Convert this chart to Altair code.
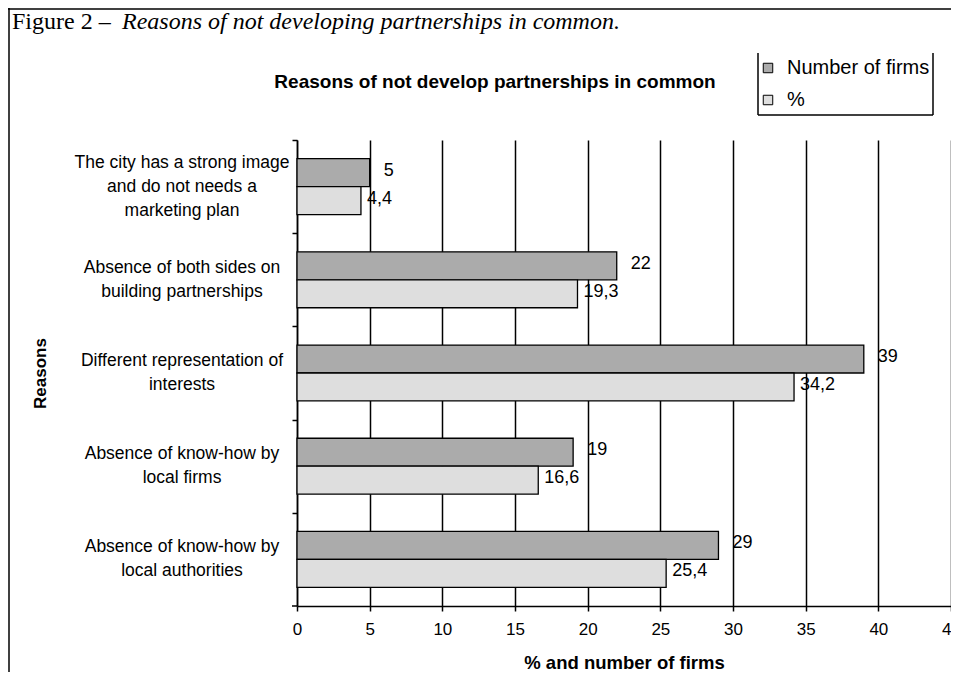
import altair as alt
import pandas as pd

# ---- data ----
reasons = [
    "The city has a strong image\nand do not needs a\nmarketing plan",
    "Absence of both sides on\nbuilding partnerships",
    "Different representation of\ninterests",
    "Absence of know-how by\nlocal firms",
    "Absence of know-how by\nlocal authorities",
]
series = ["Number of firms", "%"]
firms = [5, 22, 39, 19, 29]
percent = [4.4, 19.3, 34.2, 16.6, 25.4]
x_ticks = [0, 5, 10, 15, 20, 25, 30, 35, 40, 45]

caption_plain = ["Figure 2 \u2013"]
caption_italic = ["Reasons of not developing partnerships in common."]
chart_title = ["Reasons of not develop partnerships in common"]

rows = []
for r, f, p in zip(reasons, firms, percent):
    rows.append({"Reason": r, "Series": series[0], "Value": f, "Label": str(f)})
    rows.append({"Reason": r, "Series": series[1], "Value": p,
                 "Label": f"{p:.1f}".replace(".", ",")})
df = pd.DataFrame(rows)
df_cat = pd.DataFrame({"Reason": reasons,
                       "Lines": [r.count("\n") + 1 for r in reasons]})

W, H = 654, 466
STEP = H / 5.0
LH = 24
FONT = "Liberation Sans"
SERIF = "Liberation Serif"

y_enc = alt.Y(
    "Reason:N", sort=reasons,
    scale=alt.Scale(paddingInner=0.4, paddingOuter=0.2),
    axis=alt.Axis(
        title="Reasons", titleFont=FONT, titleFontSize=17, titleFontWeight="bold",
        titleColor="black", titleX=-257, titleY=H / 2, titleAngle=270,
        titleAlign="center", titleBaseline="middle",
        labels=False, tickOffset=-STEP / 2,
        tickSize=5, tickColor="black", tickWidth=1.5,
        domainColor="black", domainWidth=1.5, grid=False,
    ),
)
yoff = alt.YOffset("Series:N", sort=series, scale=alt.Scale(domain=series))
x_enc = alt.X(
    "Value:Q",
    scale=alt.Scale(domain=[0, 45], nice=False, zero=True),
    axis=alt.Axis(
        values=x_ticks, title="% and number of firms", titleFont=FONT,
        titleFontSize=18.5, titleFontWeight="bold", titleColor="black",
        titleX=W / 2, titleY=56, titleBaseline="middle",
        labelFont=FONT, labelFontSize=17, labelColor="black", labelPadding=10,
        labelFlush=False, labelOverlap=False,
        tickSize=5, tickColor="black", tickWidth=1.5,
        domainColor="black", domainWidth=1.5,
        grid=True, gridColor="black", gridWidth=1.5, gridOpacity=1,
    ),
)

bars = alt.Chart(df).mark_bar(stroke="black", strokeWidth=1.3).encode(
    y=y_enc, yOffset=yoff, x=x_enc,
    fill=alt.Fill(
        "Series:N", sort=series,
        scale=alt.Scale(domain=series, range=["#ababab", "#dedede"]),
        legend=alt.Legend(
            orient="none", legendX=461, legendY=-82, title=None,
            symbolType="square", symbolSize=90, symbolStrokeColor="black",
            symbolStrokeWidth=1, labelFont=FONT, labelFontSize=20,
            labelColor="black", rowPadding=12, labelOffset=9, padding=0,
        ),
    ),
)

lab_firms = alt.Chart(df).transform_filter(alt.datum.Series == series[0]).mark_text(
    align="left", baseline="middle", dx=14, dy=-2, font=FONT, fontSize=18, color="black"
).encode(y=y_enc, yOffset=yoff, x=x_enc, text="Label:N")

lab_pct = alt.Chart(df).transform_filter(alt.datum.Series == series[1]).mark_text(
    align="left", baseline="middle", dx=6, dy=-2, font=FONT, fontSize=18, color="black"
).encode(y=y_enc, yOffset=yoff, x=x_enc, text="Label:N")


# category labels (multi-line, centred on their band)
def cat_layer(n):
    return alt.Chart(df_cat).transform_filter(alt.datum.Lines == n).mark_text(
        lineBreak="\n", lineHeight=LH, align="center", baseline="middle",
        dy=-(n - 1) * LH / 2, font=FONT, fontSize=17.5, color="black",
    ).encode(y=y_enc, x=alt.value(-115), text="Reason:N")


cat2 = cat_layer(2)
cat3 = cat_layer(3)

# chart title
title_txt = alt.Chart(pd.DataFrame({"t": chart_title})).mark_text(
    font=FONT, fontSize=19, fontWeight="bold", align="center", baseline="middle", color="black"
).encode(text="t:N", x=alt.value(198), y=alt.value(-58))

# figure caption
cap1 = alt.Chart(pd.DataFrame({"t": caption_plain})).mark_text(
    font=SERIF, fontSize=24, align="left", baseline="middle", color="black"
).encode(text="t:N", x=alt.value(-285), y=alt.value(-118))
cap2 = alt.Chart(pd.DataFrame({"t": caption_italic})).mark_text(
    font=SERIF, fontSize=24, fontStyle="italic", align="left", baseline="middle", color="black"
).encode(text="t:N", x=alt.value(-175), y=alt.value(-118))

one = pd.DataFrame({"k": [0]})
# outer frame (top and left)
frame_top = alt.Chart(one).mark_rule(color="black", strokeWidth=1.5).encode(
    x=alt.value(-289), x2=alt.value(W + 5), y=alt.value(-131))
frame_left = alt.Chart(one).mark_rule(color="black", strokeWidth=1.5).encode(
    x=alt.value(-288), y=alt.value(-132), y2=alt.value(H + 70))

# bottom category tick of the y axis
bottom_tick = alt.Chart(one).mark_rule(color="black", strokeWidth=1.5).encode(
    x=alt.value(-5), x2=alt.value(0), y=alt.value(H))

# legend box (left, right, bottom)
lg_left = alt.Chart(one).mark_rule(color="black", strokeWidth=1.5).encode(
    x=alt.value(461), y=alt.value(-87), y2=alt.value(-25))
lg_right = alt.Chart(one).mark_rule(color="black", strokeWidth=1.5).encode(
    x=alt.value(636), y=alt.value(-87), y2=alt.value(-25))
lg_bottom = alt.Chart(one).mark_rule(color="black", strokeWidth=1.5).encode(
    x=alt.value(461), x2=alt.value(636), y=alt.value(-25))

chart = alt.layer(
    bars, lab_firms, lab_pct, cat2, cat3, title_txt, cap1, cap2,
    frame_top, frame_left, bottom_tick, lg_left, lg_right, lg_bottom,
).properties(
    width=W, height=H,
    autosize=alt.AutoSizeParams(type="none"),
    padding={"left": 289, "top": 132, "right": 0, "bottom": 66},
    background="white",
).configure_view(stroke=None)

chart.save("out.html", embed_options={"renderer": "svg", "actions": False})
